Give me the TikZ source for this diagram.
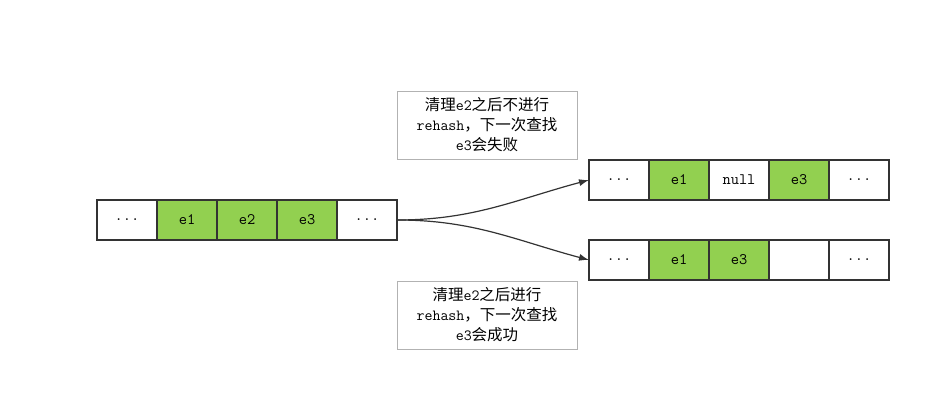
\documentclass[tikz,border=0pt]{standalone}
\usepackage{fontspec}
\newfontfamily\cjk{Noto Sans CJK SC}
\usepackage{tikz}
\usetikzlibrary{arrows.meta,positioning}
\definecolor{elemgreen}{HTML}{92D050}
\definecolor{edge}{HTML}{333333}

\begin{document}
\begin{tikzpicture}[
  x=1pt, y=1pt,
  font=\ttfamily\fontsize{16}{20}\selectfont,
  cell/.style={draw=edge, line width=1.6pt, minimum width=60pt, minimum height=40pt,
               inner sep=0pt, outer sep=0pt},
  full/.style={cell, fill=elemgreen},
  note/.style={draw=black!30, line width=0.8pt, minimum width=180pt, minimum height=68pt,
               text width=176pt, align=center, inner sep=2pt,
               font=\ttfamily\fontsize{15.5}{20}\selectfont},
  arr/.style={-{Latex[length=10pt,width=7pt]}, line width=1.2pt, edge},
]
\useasboundingbox (0,0) rectangle (950,412);

%% ---------- original bucket array ----------
\node[cell] (a1) at (127,192) {...};
\node[full, right=0pt of a1] (a2) {e1};
\node[full, right=0pt of a2] (a3) {e2};
\node[full, right=0pt of a3] (a4) {e3};
\node[cell, right=0pt of a4] (a5) {...};

%% ---------- after removing e2, no rehash ----------
\node[cell] (b1) at (619,232) {...};
\node[full, right=0pt of b1] (b2) {e1};
\node[cell, right=0pt of b2] (b3) {null};
\node[full, right=0pt of b3] (b4) {e3};
\node[cell, right=0pt of b4] (b5) {...};

%% ---------- after removing e2, with rehash ----------
\node[cell] (c1) at (619,152) {...};
\node[full, right=0pt of c1] (c2) {e1};
\node[full, right=0pt of c2] (c3) {e3};
\node[cell, right=0pt of c3] (c4) {};
\node[cell, right=0pt of c4] (c5) {...};

%% ---------- notes ----------
\node[note] (fail) at (487,287)
  {{\cjk 清理}e2{\cjk 之后不进行}\\ rehash{\cjk ，下一次查找}\\ e3{\cjk 会失败}};
\node[note] (ok) at (487,97)
  {{\cjk 清理}e2{\cjk 之后进行}\\ rehash{\cjk ，下一次查找}\\ e3{\cjk 会成功}};

\draw[arr] (a5.east) to[out=0,in=195] (b1.west);
\draw[arr] (a5.east) to[out=0,in=165] (c1.west);

\end{tikzpicture}
\end{document}
